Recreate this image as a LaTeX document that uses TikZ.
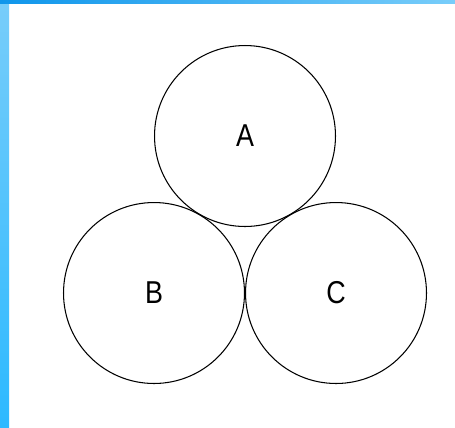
\documentclass[tikz,border=0pt]{standalone}
\usepackage{fontspec}
\setmainfont[FakeStretch=0.85]{Liberation Sans}
\definecolor{skytop}{RGB}{120,205,250}
\definecolor{skymid}{RGB}{20,140,225}
\definecolor{skylow}{RGB}{45,185,255}
\definecolor{skybar}{RGB}{15,150,235}
\begin{document}
\begin{tikzpicture}[
  x=0.02cm, y=-0.02cm,
  font=\fontsize{18}{21}\selectfont,
  set/.style={draw, circle, line width=0.6pt, minimum size=3.62cm, inner sep=0pt}
]
\useasboundingbox (0,0) rectangle (455,427);
\fill[white] (0,0) rectangle (455,427);
% blue frame
\shade[top color=skytop, middle color=skymid, bottom color=skylow] (0,0) rectangle (9,427);
\shade[left color=skybar, right color=skytop] (0,0) rectangle (455,3);

\node[set] (A) at (245,136) {A};
\node[set] (B) at (154,293) {B};
\node[set] (C) at (336,293) {C};
\end{tikzpicture}
\end{document}
